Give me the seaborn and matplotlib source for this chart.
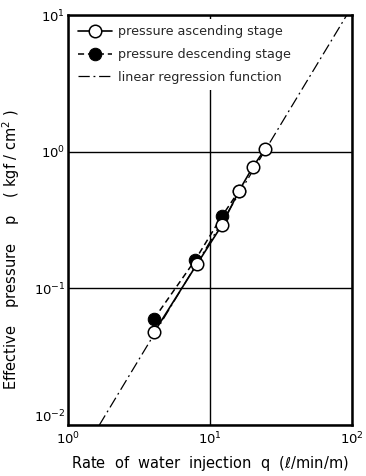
import matplotlib
matplotlib.use("Agg")
import matplotlib.pyplot as plt
import seaborn as sns
import numpy as np
from matplotlib.ticker import LogLocator, NullLocator, LogFormatterMathtext

sns.set_theme(style="white")
plt.rcParams['font.family'] = ['DejaVu Sans']

# ascending stage (open circles)
asc_q = [4.03, 8.06, 12.1, 16.0, 20.1, 24.4]
asc_p = [0.0477, 0.150, 0.290, 0.52, 0.78, 1.05]
# descending stage (filled circles)
desc_q = [4.03, 7.84, 12.1, 16.0]
desc_p = [0.060, 0.161, 0.337, 0.52]
# linear regression function endpoints (log-log)
reg_q = [1.66, 91.6]
reg_p = [0.01, 10.0]

fig = plt.figure(figsize=(3.66, 4.76), dpi=100)
ax = fig.add_axes([0.186, 0.107, 0.776, 0.861])

sns.lineplot(x=reg_q, y=reg_p, ax=ax, color="black", lw=0.9,
             linestyle=(0, (9, 3, 1.5, 3)), label="linear regression function", zorder=2)
sns.lineplot(x=desc_q, y=desc_p, ax=ax, color="black", lw=1.1, linestyle=(0, (4, 2.5)),
             marker="o", markersize=9, markerfacecolor="black", markeredgecolor="black",
             label="pressure descending stage", zorder=3)
sns.lineplot(x=asc_q, y=asc_p, ax=ax, color="black", lw=1.2, linestyle="-",
             marker="o", markersize=9, markerfacecolor="white", markeredgecolor="black",
             markeredgewidth=1.1, label="pressure ascending stage", zorder=4)

ax.set_xscale("log")
ax.set_yscale("log")
ax.set_xlim(1, 100)
ax.set_ylim(0.01, 10)
ax.xaxis.set_major_locator(LogLocator(base=10))
ax.yaxis.set_major_locator(LogLocator(base=10))
ax.xaxis.set_minor_locator(NullLocator())
ax.yaxis.set_minor_locator(NullLocator())
ax.xaxis.set_major_formatter(LogFormatterMathtext())
ax.yaxis.set_major_formatter(LogFormatterMathtext())
ax.grid(True, which="major", color="black", lw=1.0)
ax.tick_params(axis="both", length=0, labelsize=9.5, colors="black")
ax.tick_params(axis="y", pad=2)
ax.tick_params(axis="x", pad=4)
for s in ax.spines.values():
    s.set_color("black")
    s.set_linewidth(1.8)

fig.canvas.draw()
for t in ax.get_yticklabels():
    if abs(t.get_position()[1] - 0.01) < 1e-6:
        t.set_va("bottom")

ax.set_xlabel(r"Rate  of  water  injection  q  ($\ell$/min/m)", fontsize=10.5,
              labelpad=5, color="black")
ax.set_ylabel("Effective    pressure    p    ( kgf / cm$^2$ )", fontsize=10.5, color="black")
ax.yaxis.set_label_coords(-0.162, 0.427)

h, l = ax.get_legend_handles_labels()
order = [l.index("pressure ascending stage"), l.index("pressure descending stage"),
         l.index("linear regression function")]
leg = ax.legend([h[i] for i in order], [l[i] for i in order], loc="upper left",
                frameon=True, fontsize=9.2, handlelength=2.6, handletextpad=0.5,
                borderaxespad=0.3, borderpad=0.5, labelspacing=0.75, fancybox=False)
leg.get_frame().set_edgecolor("none")
leg.get_frame().set_facecolor("white")
leg.get_frame().set_alpha(1.0)

fig.savefig("out.png", dpi=100)
